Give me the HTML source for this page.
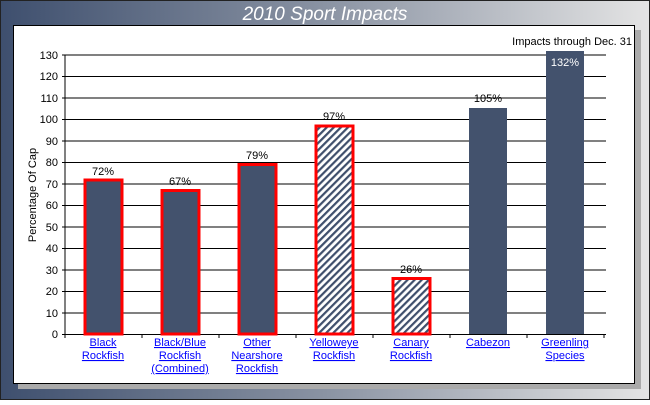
<!DOCTYPE html>
<html><head><style>
body{margin:0;width:650px;height:400px;overflow:hidden;font-family:"Liberation Sans",sans-serif}
</style></head><body>
<svg width="650" height="400" xmlns="http://www.w3.org/2000/svg" font-family="Liberation Sans, sans-serif">
<defs>
<linearGradient id="bg" x1="0" x2="1" y1="0" y2="0">
<stop offset="0" stop-color="#3e4f6e"/><stop offset="0.5" stop-color="#8a93a3"/><stop offset="1" stop-color="#e4e4e4"/>
</linearGradient>
<pattern id="h" width="5" height="5" patternUnits="userSpaceOnUse" patternTransform="rotate(45)">
<rect width="5" height="5" fill="#fff"/><rect width="2.2" height="5" fill="#3f4f6c"/>
</pattern>
</defs>
<rect width="650" height="400" fill="url(#bg)"/>
<rect x="0.5" y="0.5" width="649" height="399" fill="none" stroke="#222"/>
<text x="325" y="20" text-anchor="middle" font-size="19" font-style="italic" fill="#fff">2010 Sport Impacts</text>
<rect x="18" y="30" width="623" height="359" fill="#aaa"/>
<rect x="13.5" y="25.5" width="621" height="358" fill="#fff" stroke="#000"/>
<text x="632" y="45" text-anchor="end" font-size="11" fill="#000">Impacts through Dec. 31</text>
<g stroke="#000" stroke-width="1">
<line x1="62" y1="334.5" x2="606" y2="334.5"/>
<line x1="62" y1="313" x2="606" y2="313"/><line x1="62" y1="291.5" x2="606" y2="291.5"/>
<line x1="62" y1="270" x2="606" y2="270"/><line x1="62" y1="248.5" x2="606" y2="248.5"/>
<line x1="62" y1="227" x2="606" y2="227"/><line x1="62" y1="205.5" x2="606" y2="205.5"/>
<line x1="62" y1="184" x2="606" y2="184"/><line x1="62" y1="162.5" x2="606" y2="162.5"/>
<line x1="62" y1="141" x2="606" y2="141"/><line x1="62" y1="119.5" x2="606" y2="119.5"/>
<line x1="62" y1="98" x2="606" y2="98"/><line x1="62" y1="76.5" x2="606" y2="76.5"/>
<line x1="62" y1="55" x2="606" y2="55"/>
<line x1="65" y1="334" x2="65" y2="55"/>
<line x1="65" y1="334" x2="65" y2="338"/><line x1="142" y1="334" x2="142" y2="338"/><line x1="219" y1="334" x2="219" y2="338"/><line x1="296" y1="334" x2="296" y2="338"/><line x1="373" y1="334" x2="373" y2="338"/><line x1="450" y1="334" x2="450" y2="338"/><line x1="527" y1="334" x2="527" y2="338"/><line x1="604" y1="334" x2="604" y2="338"/>
</g>
<g font-size="11" text-anchor="end" fill="#000">
<text x="58" y="338">0</text><text x="58" y="317">10</text><text x="58" y="295">20</text><text x="58" y="274">30</text><text x="58" y="252">40</text><text x="58" y="231">50</text><text x="58" y="209">60</text><text x="58" y="188">70</text><text x="58" y="166">80</text><text x="58" y="145">90</text><text x="58" y="123">100</text><text x="58" y="102">110</text><text x="58" y="80">120</text><text x="58" y="59">130</text>
</g>
<text transform="translate(36,195) rotate(-90)" text-anchor="middle" font-size="11">Percentage Of Cap</text>
<g stroke="#f00" stroke-width="3">
<rect x="85" y="180" width="37" height="154" fill="#43526d"/>
<rect x="162" y="190.5" width="37" height="143.5" fill="#43526d"/>
<rect x="239" y="164.5" width="37" height="169.5" fill="#43526d"/>
<rect x="316" y="126" width="37" height="208" fill="url(#h)"/>
<rect x="393" y="278.5" width="37" height="55.5" fill="url(#h)"/>
</g>
<rect x="469" y="108" width="38" height="226" fill="#43526d"/>
<rect x="546" y="51" width="38" height="283" fill="#43526d"/>
<g font-size="11" text-anchor="middle" fill="#000">
<text x="103" y="175">72%</text><text x="180" y="185">67%</text><text x="257" y="159">79%</text><text x="334" y="120">97%</text><text x="411" y="273">26%</text><text x="488" y="102">105%</text>
<text x="565" y="66" fill="#fff">132%</text>
</g>
<g font-size="11" text-anchor="middle" fill="#00f" text-decoration="underline">
<text x="103" y="346">Black</text><text x="103" y="359">Rockfish</text>
<text x="180" y="346">Black/Blue</text><text x="180" y="359">Rockfish</text><text x="180" y="372">(Combined)</text>
<text x="257" y="346">Other</text><text x="257" y="359">Nearshore</text><text x="257" y="372">Rockfish</text>
<text x="334" y="346">Yelloweye</text><text x="334" y="359">Rockfish</text>
<text x="411" y="346">Canary</text><text x="411" y="359">Rockfish</text>
<text x="488" y="346">Cabezon</text>
<text x="565" y="346">Greenling</text><text x="565" y="359">Species</text>
</g>
</svg>
</body></html>
